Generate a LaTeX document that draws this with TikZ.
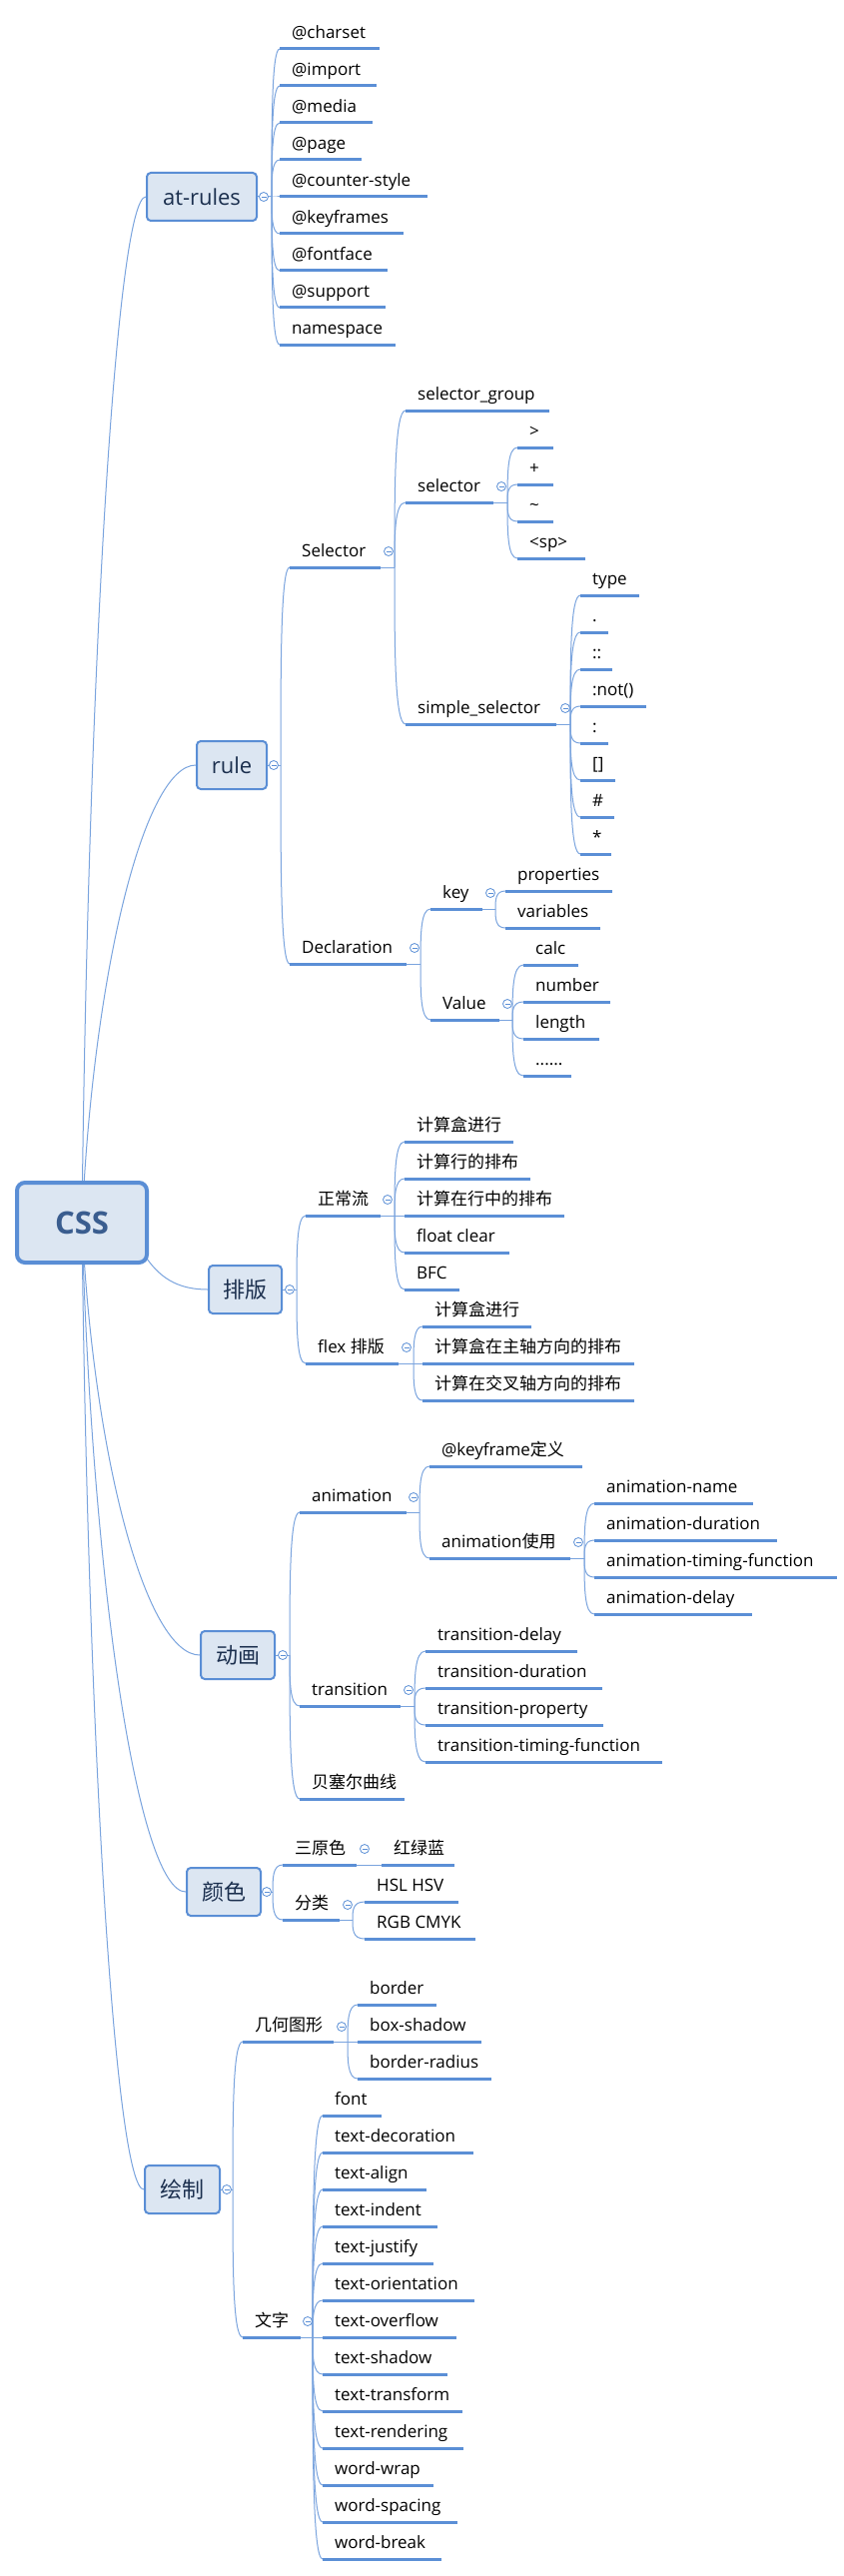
\documentclass[tikz,border=0pt]{standalone}
\usepackage{fontspec}
\setmainfont{Open Sans}
\newfontfamily\cjk{Noto Sans CJK SC}
\usetikzlibrary{calc}
\definecolor{lineblue}{HTML}{5B8FD6}
\definecolor{connblue}{HTML}{7AA4DE}
\definecolor{boxfill}{HTML}{DCE6F2}
\definecolor{boxdraw}{HTML}{5A8ED5}
\definecolor{topictext}{HTML}{1B2F4E}
\definecolor{csstext}{HTML}{3A5D8F}
\pgfdeclarelayer{background}
\pgfsetlayers{background,main}
\tikzset{
  conn/.style={draw=connblue, line width=1pt},
  uline/.style={draw=lineblue, line width=3pt},
  topic/.style={draw=boxdraw, fill=boxfill, line width=2pt, rounded corners=4pt,
    minimum height=48pt, inner sep=0pt, text=topictext, font=\fontsize{22}{26}\selectfont},
  sub/.style={anchor=south west, inner sep=0pt, text depth=10pt, text height=14pt,
    font=\fontsize{17}{20}\selectfont},
  fold/.style={circle, draw=lineblue, fill=white, line width=0.8pt, minimum size=9pt, inner sep=0pt,
    path picture={\draw[lineblue, line width=0.8pt]
      ([xshift=-2.5pt]path picture bounding box.center) -- ([xshift=2.5pt]path picture bounding box.center);}},
  mcurve/.style={to path={let \p1=(\tikztostart), \p2=(\tikztotarget) in
    .. controls ({\x1+0.1*(\x2-\x1)},{\y1+0.55*(\y2-\y1)}) and ({\x1+0.55*(\x2-\x1)},\y2) .. (\tikztotarget)}},
  bcurve/.style={to path={let \p1=(\tikztostart), \p2=(\tikztotarget) in
    .. controls (\x1,{\y1+0.5*(\y2-\y1)}) and (\x1,\y2) .. (\tikztotarget)}},
}
\newcommand\mmsub[5]{\node[sub] (#1) at (#2,#3) {\hbox to #4pt{\hskip12pt\relax #5\hss}};}
\begin{document}
\begin{tikzpicture}[x=1pt,y=-1pt]
\begin{pgfonlayer}{background}
\fill[white] (0,0) rectangle (845,2579);
\end{pgfonlayer}
\useasboundingbox (0,0) rectangle (845,2579);

% main topics
\node[topic, minimum width=130pt, minimum height=80pt, line width=4pt, rounded corners=8pt,
  font=\fontsize{31}{36}\selectfont\bfseries, text=csstext] (css) at (82,1224) {CSS};
\node[topic, minimum width=110pt] (atr) at (202,197) {at-rules};
\node[topic, minimum width=70pt] (rule) at (232,766) {rule};
\node[topic, minimum width=73pt] (pb) at (245.5,1291) {\cjk 排版};
\node[topic, minimum width=74pt] (dh) at (238,1657) {\cjk 动画};
\node[topic, minimum width=74pt] (ys) at (224,1894) {\cjk 颜色};
\node[topic, minimum width=75pt] (hz) at (182.5,2192) {\cjk 绘制};

% at-rules
\mmsub{ch}{280}{49}{100}{@charset}
\mmsub{im}{280}{86}{97}{@import}
\mmsub{me}{280}{123}{93}{@media}
\mmsub{pg}{280}{160}{82}{@page}
\mmsub{cs}{280}{197}{148}{@counter-style}
\mmsub{kf}{280}{234}{124}{@keyframes}
\mmsub{ff}{280}{271}{108}{@fontface}
\mmsub{su}{280}{308}{106}{@support}
\mmsub{ns}{280}{345}{116}{namespace}

% rule
\mmsub{sel}{290}{568}{91}{Selector}
\mmsub{sg}{406}{411}{144}{selector\_group}
\mmsub{sr}{406}{503}{88}{selector}
\mmsub{c1}{518}{448}{36}{>}
\mmsub{c2}{518}{485}{36}{+}
\mmsub{c3}{518}{522}{36}{\textasciitilde}
\mmsub{c4}{518}{559}{68}{<sp>}
\mmsub{ss}{406}{725}{151}{simple\_selector}
\mmsub{s1}{581}{596}{59}{type}
\mmsub{s2}{581}{633}{28}{.}
\mmsub{s3}{581}{670}{32}{::}
\mmsub{s4}{581}{707}{66}{:not()}
\mmsub{s5}{581}{744}{28}{:}
\mmsub{s6}{581}{781}{35}{[]}
\mmsub{s7}{581}{818}{34}{\#}
\mmsub{s8}{581}{855}{31}{*}
\mmsub{dec}{290}{965}{117}{Declaration}
\mmsub{key}{431}{910}{52}{key}
\mmsub{k1}{506}{892}{107}{properties}
\mmsub{k2}{506}{929}{95}{variables}
\mmsub{val}{431}{1021}{69}{Value}
\mmsub{v1}{524}{966}{55}{calc}
\mmsub{v2}{524}{1003}{87}{number}
\mmsub{v3}{524}{1040}{76}{length}
\mmsub{v4}{524}{1077}{48}{......}

% 排版
\mmsub{zc}{306}{1217}{75}{\cjk 正常流}
\mmsub{z1}{405}{1143}{109}{\cjk 计算盒进行}
\mmsub{z2}{405}{1180}{126}{\cjk 计算行的排布}
\mmsub{z3}{405}{1217}{160}{\cjk 计算在行中的排布}
\mmsub{z4}{405}{1254}{105}{float clear}
\mmsub{z5}{405}{1291}{55}{BFC}
\mmsub{fx}{306}{1365}{93}{flex {\cjk 排版}}
\mmsub{f1}{423}{1328}{109}{\cjk 计算盒进行}
\mmsub{f2}{423}{1365}{212}{\cjk 计算盒在主轴方向的排布}
\mmsub{f3}{423}{1402}{212}{\cjk 计算在交叉轴方向的排布}

% 动画
\mmsub{an}{300}{1514}{107}{animation}
\mmsub{a1}{430}{1468}{153}{@keyframe{\cjk 定义}}
\mmsub{a2}{430}{1560}{141}{animation{\cjk 使用}}
\mmsub{a21}{595}{1505}{159}{animation-name}
\mmsub{a22}{595}{1542}{183}{animation-duration}
\mmsub{a23}{595}{1579}{243}{animation-timing-function}
\mmsub{a24}{595}{1616}{158}{animation-delay}
\mmsub{tr}{300}{1708}{101}{transition}
\mmsub{t1}{426}{1653}{152}{transition-delay}
\mmsub{t2}{426}{1690}{177}{transition-duration}
\mmsub{t3}{426}{1727}{178}{transition-property}
\mmsub{t4}{426}{1764}{237}{transition-timing-function}
\mmsub{bz}{300}{1801}{105}{\cjk 贝塞尔曲线}

% 颜色
\mmsub{sy}{283}{1867}{74}{\cjk 三原色}
\mmsub{hl}{382}{1867}{73}{\cjk 红绿蓝}
\mmsub{fl}{283}{1922}{57}{\cjk 分类}
\mmsub{fl1}{365}{1904}{94}{HSL HSV}
\mmsub{fl2}{365}{1941}{111}{RGB CMYK}

% 绘制
\mmsub{jh}{243}{2044}{91}{\cjk 几何图形}
\mmsub{j1}{358}{2007}{79}{border}
\mmsub{j2}{358}{2044}{124}{box-shadow}
\mmsub{j3}{358}{2081}{134}{border-radius}
\mmsub{wz}{243}{2340}{58}{\cjk 文字}
\mmsub{w1}{323}{2118}{59}{font}
\mmsub{w2}{323}{2155}{151}{text-decoration}
\mmsub{w3}{323}{2192}{104}{text-align}
\mmsub{w4}{323}{2229}{115}{text-indent}
\mmsub{w5}{323}{2266}{111}{text-justify}
\mmsub{w6}{323}{2303}{152}{text-orientation}
\mmsub{w7}{323}{2340}{134}{text-overflow}
\mmsub{w8}{323}{2377}{125}{text-shadow}
\mmsub{w9}{323}{2414}{140}{text-transform}
\mmsub{w10}{323}{2451}{141}{text-rendering}
\mmsub{w11}{323}{2488}{111}{word-wrap}
\mmsub{w12}{323}{2525}{135}{word-spacing}
\mmsub{w13}{323}{2562}{119}{word-break}

% fork points
\coordinate (fatr) at (272,197);
\coordinate (frule) at (281,766);
\coordinate (fpb) at (297,1291);
\coordinate (fdh) at (290,1657);
\coordinate (fys) at (273,1894);
\coordinate (fhz) at (233,2192);
\coordinate (fsel) at (395,568);
\coordinate (fsr) at (508,503);
\coordinate (fss) at (571,725);
\coordinate (fdec) at (421,965);
\coordinate (fkey) at (496,910);
\coordinate (fval) at (513,1021);
\coordinate (fzc) at (395,1217);
\coordinate (ffx) at (414,1365);
\coordinate (fan) at (420,1514);
\coordinate (fa2) at (585,1560);
\coordinate (ftr) at (415,1708);
\coordinate (ffl) at (353,1922);
\coordinate (fjh) at (348,2044);
\coordinate (fwz) at (313,2340);

\begin{pgfonlayer}{background}
% main branches
\draw[conn] (css.center) to[mcurve] (atr.west);
\draw[conn] (css.center) to[mcurve] (rule.west);
\draw[conn] ($(css.south east)+(-2,-6)$) to[out=-55,in=180] (pb.west);
\draw[conn] (css.center) to[mcurve] (dh.west);
\draw[conn] (css.center) to[mcurve] (ys.west);
\draw[conn] (css.center) to[mcurve] (hz.west);
% topic to fork
\draw[conn] (atr.east) -- (fatr);
\draw[conn] (rule.east) -- (frule);
\draw[conn] (pb.east) -- (fpb);
\draw[conn] (dh.east) -- (fdh);
\draw[conn] (ys.east) -- (fys);
\draw[conn] (hz.east) -- (fhz);
% subtopic to fork
\foreach \p/\f in {sel/fsel, sr/fsr, ss/fss, dec/fdec, key/fkey, val/fval, zc/fzc, fx/ffx,
  an/fan, a2/fa2, tr/ftr, fl/ffl, jh/fjh, wz/fwz}
  \draw[conn] (\p.south east) -- (\f);
\draw[conn] (sy.south east) -- (hl.south west);
% children
\foreach \c in {ch,im,me,pg,cs,kf,ff,su,ns} \draw[conn] (fatr) to[bcurve] (\c.south west);
\foreach \c in {sel,dec} \draw[conn] (frule) to[bcurve] (\c.south west);
\foreach \c in {sg,sr,ss} \draw[conn] (fsel) to[bcurve] (\c.south west);
\foreach \c in {c1,c2,c3,c4} \draw[conn] (fsr) to[bcurve] (\c.south west);
\foreach \c in {s1,s2,s3,s4,s5,s6,s7,s8} \draw[conn] (fss) to[bcurve] (\c.south west);
\foreach \c in {key,val} \draw[conn] (fdec) to[bcurve] (\c.south west);
\foreach \c in {k1,k2} \draw[conn] (fkey) to[bcurve] (\c.south west);
\foreach \c in {v1,v2,v3,v4} \draw[conn] (fval) to[bcurve] (\c.south west);
\foreach \c in {zc,fx} \draw[conn] (fpb) to[bcurve] (\c.south west);
\foreach \c in {z1,z2,z3,z4,z5} \draw[conn] (fzc) to[bcurve] (\c.south west);
\foreach \c in {f1,f2,f3} \draw[conn] (ffx) to[bcurve] (\c.south west);
\foreach \c in {an,tr,bz} \draw[conn] (fdh) to[bcurve] (\c.south west);
\foreach \c in {a1,a2} \draw[conn] (fan) to[bcurve] (\c.south west);
\foreach \c in {a21,a22,a23,a24} \draw[conn] (fa2) to[bcurve] (\c.south west);
\foreach \c in {t1,t2,t3,t4} \draw[conn] (ftr) to[bcurve] (\c.south west);
\foreach \c in {sy,fl} \draw[conn] (fys) to[bcurve] (\c.south west);
\foreach \c in {fl1,fl2} \draw[conn] (ffl) to[bcurve] (\c.south west);
\foreach \c in {jh,wz} \draw[conn] (fhz) to[bcurve] (\c.south west);
\foreach \c in {j1,j2,j3} \draw[conn] (fjh) to[bcurve] (\c.south west);
\foreach \c in {w1,w2,w3,w4,w5,w6,w7,w8,w9,w10,w11,w12,w13} \draw[conn] (fwz) to[bcurve] (\c.south west);
\end{pgfonlayer}

% underlines
\foreach \c in {ch,im,me,pg,cs,kf,ff,su,ns,sel,sg,sr,c1,c2,c3,c4,ss,s1,s2,s3,s4,s5,s6,s7,s8,
  dec,key,k1,k2,val,v1,v2,v3,v4,zc,z1,z2,z3,z4,z5,fx,f1,f2,f3,an,a1,a2,a21,a22,a23,a24,
  tr,t1,t2,t3,t4,bz,sy,hl,fl,fl1,fl2,jh,j1,j2,j3,wz,w1,w2,w3,w4,w5,w6,w7,w8,w9,w10,w11,w12,w13}
  \draw[uline] (\c.south west) -- (\c.south east);

% fold markers
\node[fold] (oatr) at (264,197) {};
\node[fold] (orule) at (274,766) {};
\node[fold] (opb) at (290,1291) {};
\node[fold] (odh) at (283,1657) {};
\node[fold] (oys) at (267,1894) {};
\node[fold] (ohz) at (227,2192) {};
\node[fold] (osel) at (389,552) {};
\node[fold] (osr) at (502,487) {};
\node[fold] (oss) at (566,709) {};
\node[fold] (odec) at (415,949) {};
\node[fold] (okey) at (491,894) {};
\node[fold] (oval) at (508,1005) {};
\node[fold] (ozc) at (388,1201) {};
\node[fold] (ofx) at (407,1349) {};
\node[fold] (oan) at (414,1499) {};
\node[fold] (oa2) at (579,1544) {};
\node[fold] (otr) at (409,1692) {};
\node[fold] (osy) at (365,1851) {};
\node[fold] (ofl) at (348,1907) {};
\node[fold] (ojh) at (342,2029) {};
\node[fold] (owz) at (308,2324) {};
\end{tikzpicture}
\end{document}
